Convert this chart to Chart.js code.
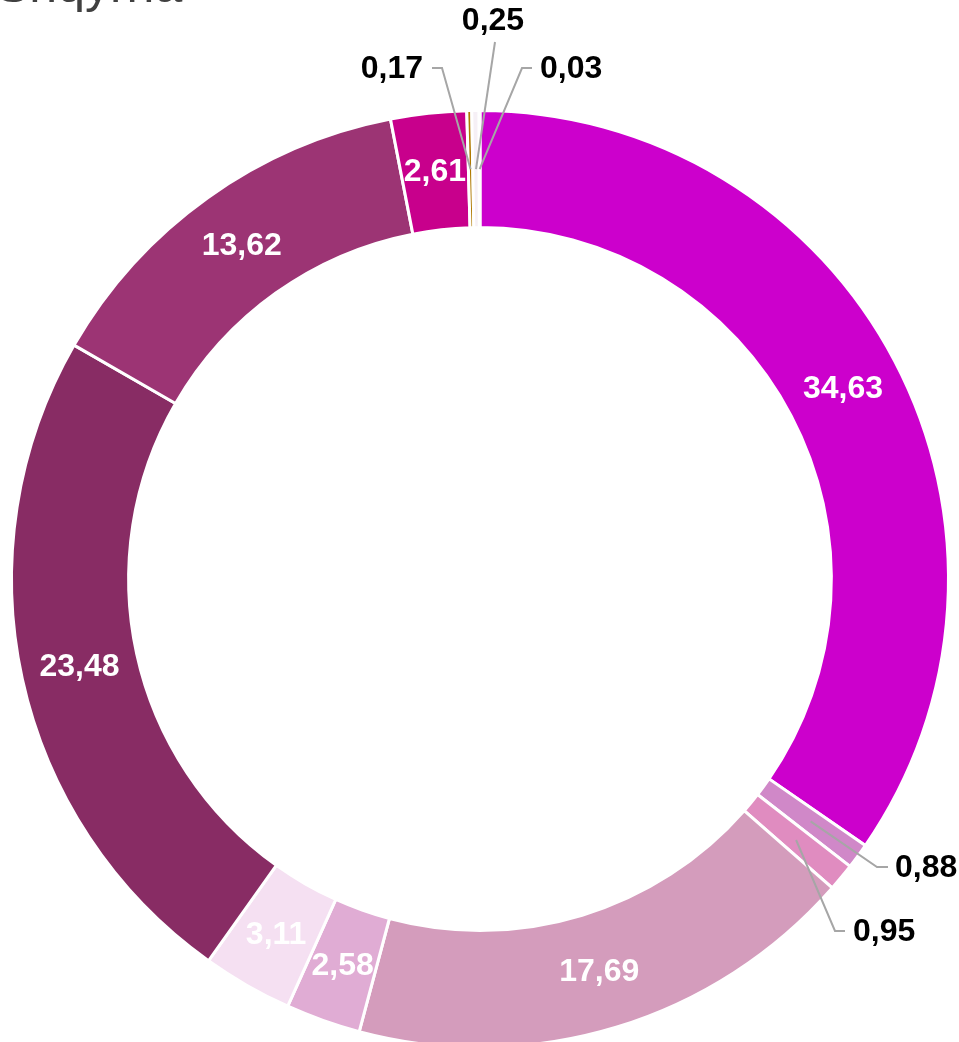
<!DOCTYPE html>
<html>
<head>
<meta charset="utf-8">
<script src="https://cdn.jsdelivr.net/npm/chart.js@4.4.1/dist/chart.umd.min.js"></script>
<style>
    body { margin: 0; overflow: hidden; background: #fff; width: 959px; height: 1042px; position: relative; }
    #title { position: absolute; left: -4px; top: -44px; font: 50px "Liberation Sans", Arial, sans-serif; color: #404040; white-space: nowrap; }
    #shareChart { position: absolute; left: 0; top: 0; }
</style>
</head>
<body>
<div id="title">Shqyrha</div>
<canvas id="shareChart" width="959" height="1158"></canvas>
<script>
const sliceLabels = ["34,63", "0,88", "0,95", "17,69", "2,58", "3,11", "23,48", "13,62", "2,61", "0,17", "0,25", "0,03"];
const sliceValues = [34.63, 0.88, 0.95, 17.69, 2.58, 3.11, 23.48, 13.62, 2.61, 0.17, 0.25, 0.03];
const sliceColors = ["#cc00cc", "#d088c8", "#e08cc0", "#d49cbc", "#e0acd4", "#f5e0f2", "#882c64", "#9c3474", "#c8008c", "#b07800", "#f6f0f6", "#4a70a0"];

// leader lines for the thin slices, offsets from the chart centre
const outsideLabels = {
    1: { elbow: [397, 288], end: [408, 288], text: [415, 288], align: 'left' },
    2: { elbow: [355, 352], end: [365, 352], text: [373, 352], align: 'left' },
    9: { elbow: [-38, -511], end: [-48, -511], text: [-57, -511], align: 'right' },
    10: { elbow: [15, -537], end: [15, -537], text: [13, -559], align: 'center' },
    11: { elbow: [42, -511], end: [52, -511], text: [60, -511], align: 'left' }
};

const sliceLabelPlugin = {
    id: 'sliceLabels',
    afterDatasetsDraw(chart) {
        const ctx = chart.ctx;
        const meta = chart.getDatasetMeta(0);
        ctx.save();
        ctx.font = 'bold 32px "Liberation Sans", Arial, sans-serif';
        ctx.textBaseline = 'middle';
        meta.data.forEach(function(arc, i) {
            const pos = arc.tooltipPosition();
            const spec = outsideLabels[i];
            if (!spec) {
                ctx.fillStyle = '#ffffff';
                ctx.textAlign = 'center';
                ctx.fillText(sliceLabels[i], pos.x, pos.y + 1);
                return;
            }
            const cx = arc.x, cy = arc.y;
            ctx.strokeStyle = '#a6a6a6';
            ctx.lineWidth = 2;
            ctx.beginPath();
            ctx.moveTo(pos.x, pos.y);
            ctx.lineTo(cx + spec.elbow[0], cy + spec.elbow[1]);
            ctx.lineTo(cx + spec.end[0], cy + spec.end[1]);
            ctx.stroke();
            ctx.fillStyle = '#000000';
            ctx.textAlign = spec.align;
            ctx.fillText(sliceLabels[i], cx + spec.text[0], cy + spec.text[1] + 1);
        });
        ctx.restore();
    }
};

const ctx = document.getElementById("shareChart").getContext("2d");
window.shareChart = new Chart(ctx, {
    type: 'doughnut',
    data: {
        labels: sliceLabels,
        datasets: [{
            data: sliceValues,
            backgroundColor: sliceColors,
            borderColor: '#ffffff',
            borderWidth: 3
        }]
    },
    options: {
        responsive: false,
        animation: false,
        cutout: '75%',
        layout: { padding: { left: 10, right: 9, top: 109, bottom: 109 } },
        plugins: {
            legend: { display: false },
            tooltip: { enabled: false }
        }
    },
    plugins: [sliceLabelPlugin]
});
</script>
</body>
</html>
